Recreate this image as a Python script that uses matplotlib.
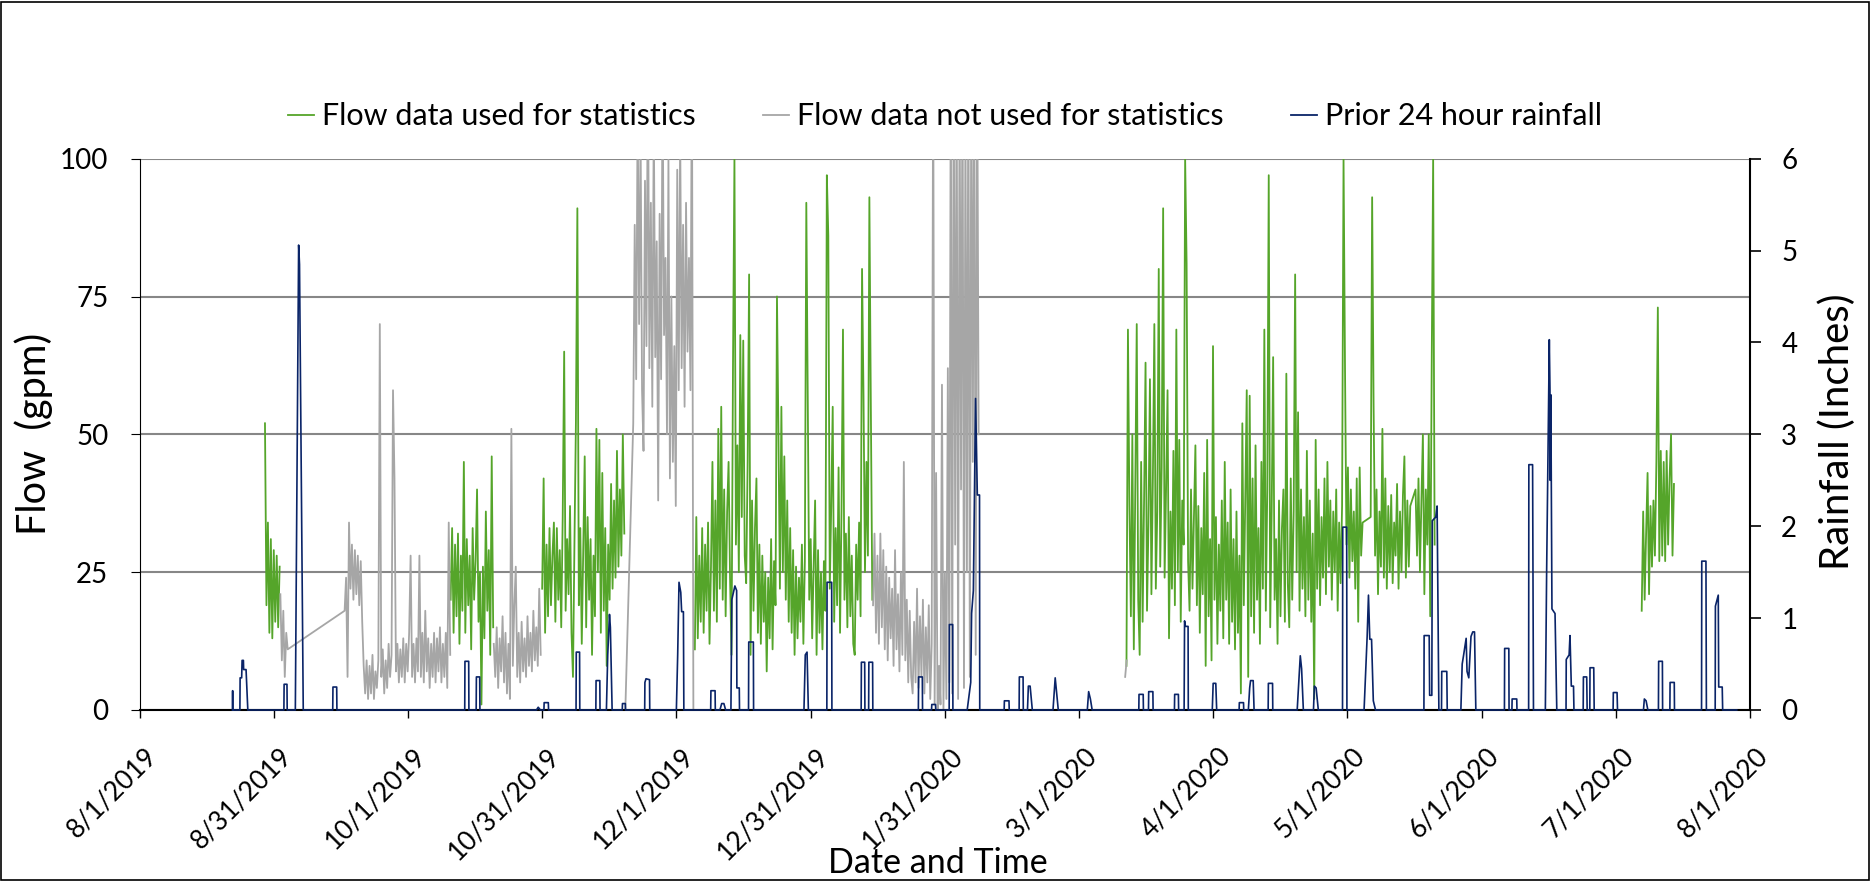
import numpy as np
import matplotlib.pyplot as plt
from matplotlib.patches import Rectangle
from matplotlib.lines import Line2D
from matplotlib.transforms import ScaledTranslation

plt.rcParams['font.family'] = ['Lato', 'DejaVu Sans']

# readings every 8 hours; x = days since 8/1/2019
STEP = 1 / 3

# Flow data used for statistics (gpm): (start day, readings, joined to previous)
used_1 = [52, 19, 34, 14, 31, 13, 29, 16, 28, 15, 26]
used_2 = [20, 33, 14, 30, 17, 32, 12, 28, 18, 45, 14, 31, 19, 28, 11, 33, 20, 27, 40, 16,
          25, 1, 26, 13, 36, 18, 29, 10, 46, 15]
used_3 = [22, 42, 14, 30, 17, 33, 19, 28, 34, 16, 33, 20, 29, 15, 35, 65, 18, 31, 21, 37,
          14, 6, 30, 52, 91, 19, 33, 12, 29, 46, 15, 35, 20, 31, 10, 28, 17, 51, 25, 49,
          14, 43, 18, 33, 8, 30, 20, 41, 22, 38, 24, 47, 26, 40, 28, 50, 32]
used_4 = [11, 35, 13, 28, 16, 33, 14, 30, 18, 34, 12, 26, 45, 18, 38, 16, 51, 22, 55, 20,
          40, 17, 36, 45, 24, 10, 62, 100, 30, 48, 25, 68, 35, 67, 28, 23, 45, 79, 10, 38,
          18, 33, 42, 14, 30, 12, 28, 16, 25, 7, 24, 13, 31, 11, 27, 19, 75, 50, 22, 55,
          25, 46, 20, 38, 16, 33, 14, 29, 10, 26, 13, 24, 16, 30, 12, 27, 92, 55, 20, 31,
          13, 26, 38, 10, 29, 14, 25, 11, 27, 18, 97, 86, 22, 37, 55, 16, 33, 19, 44, 14,
          36, 69, 20, 32, 15, 35, 17, 28, 12, 10, 30, 20, 34, 17, 80, 57, 25, 45, 28, 93,
          55, 20]
used_5a = [8, 69, 37, 17, 50, 11, 40, 70, 20, 10, 45, 16, 38, 63, 18, 34, 60, 21, 42, 70,
           22, 36, 80, 26, 44, 91, 24, 40, 58, 13, 36, 22, 47, 19, 69, 25, 49, 16, 38, 30,
           100, 81, 27, 18, 40, 22, 35, 48, 19, 37, 14, 33, 21, 43, 8, 49, 17, 31, 9, 66,
           20, 35, 12, 30, 18, 38, 13, 45, 20, 34, 12, 40, 16, 31, 11, 36, 14, 28, 3, 52,
           19, 38, 58, 6, 57, 17, 42, 14, 48, 20, 33, 12, 45, 22, 69, 18, 40, 97, 15, 36,
           64, 20, 31, 12, 38, 17, 33, 40, 16, 61, 23, 15, 42, 20, 36, 79, 25, 54, 18, 40,
           22, 35, 17, 47, 20, 38, 16, 32, 2, 49, 22, 40, 19, 35, 24, 42, 21, 45, 26, 38,
           20, 36, 25, 40, 18, 34, 23, 37, 100, 62, 30, 44, 24, 40, 27, 36, 22, 42, 16, 44,
           28, 34]
used_5b = [35, 93, 55, 28, 40, 21, 36, 26, 51, 24, 42, 22, 37, 25, 39, 23, 34, 28, 41, 22,
           36, 25, 39, 46, 24, 38, 26, 37]
used_5c = [40, 28, 42, 25, 38, 50, 21, 40, 30, 50, 17, 62, 100, 30]
used_6 = [18, 36, 20, 32, 43, 21, 37, 26, 38, 28, 45, 73, 27, 47, 28, 45, 27, 47, 30, 42,
          50, 28, 41]

# Flow data not used for statistics (gpm)
notused_1 = [21, 9, 18, 6, 14, 11]
notused_2 = [18, 24, 6, 34, 22, 30, 20, 29, 21, 28, 19, 27, 16, 8, 3, 9, 2, 8, 3, 10,
             2, 7, 4, 9, 70, 6, 11, 3, 9, 4, 12, 6, 10, 58, 42, 7, 12, 5, 11, 6,
             13, 5, 12, 7, 14, 28, 6, 12, 5, 13, 7, 28, 6, 14, 5, 18, 7, 13, 4, 12,
             6, 14, 5, 13, 7, 15, 5, 12, 6, 14, 4, 34, 10]
notused_3 = [12, 6, 15, 4, 13, 7, 17, 5, 14, 3, 12, 2, 51, 8, 19, 26, 6, 14, 5, 16,
             7, 13, 6, 17, 8, 14, 7, 18, 9, 15, 8, 22, 10]
notused_4 = [0]
notused_5 = [52, 88, 60, 110, 70, 105, 58, 47, 96, 66, 120, 62, 92, 55, 108, 64, 85, 38, 90, 60,
             115, 68, 82, 50, 100, 42, 75, 45, 66, 37, 98, 58, 105, 62, 88, 55, 92, 65, 82, 58,
             120, 0]
notused_6 = [19, 32, 14, 28, 12, 32, 15, 29, 11, 26, 9, 24, 13, 22, 8, 29, 11, 21, 7, 25,
             10, 45, 9, 20, 5, 18, 6, 3, 16, 5, 22, 4, 17, 6, 20, 3, 15, 5, 19, 2,
             12, 120, 1, 43, 0, 8, 1, 59, 0, 25, 2, 62, 5, 120, 3, 120, 30, 120, 2, 115,
             40, 120, 4, 110, 25, 120, 6, 120, 45, 120, 10, 120, 50]
notused_7 = [6, 9]

used_segments = [(28.5, used_1, False), (70.7, used_2, False), (91.5, used_3, False),
                 (126.2, used_4, False), (224.3, used_5a, False), (279.8, used_5b, True),
                 (290.0, used_5c, True), (341.4, used_6, False)]
notused_segments = [(32.0, notused_1, False), (46.6, notused_2, True), (80.5, notused_3, False),
                    (110.4, notused_4, False), (112.2, notused_5, True),
                    (166.7, notused_6, False), (224.0, notused_7, False)]

# Prior 24 hour rainfall (inches): (day, inches)
rain = [(21.1, 0), (21.15, 0.21), (21.2, 0),
        (22.8, 0), (22.85, 0.35), (23.2, 0.35), (23.3, 0.54), (23.6, 0.54), (23.65, 0.44), (24.2, 0.44), (24.6, 0),
        (32.8, 0), (32.85, 0.28), (33.5, 0.28), (33.55, 0),
        (35.4, 0), (36.15, 5.06), (36.35, 4.85), (37.2, 0),
        (43.9, 0), (43.95, 0.25), (44.8, 0.25), (44.85, 0),
        (73.9, 0), (73.95, 0.53), (74.8, 0.53), (74.85, 0),
        (76.5, 0), (76.55, 0.36), (77.3, 0.36), (77.35, 0),
        (90.2, 0), (90.6, 0.03), (91.1, 0),
        (91.9, 0), (91.95, 0.08), (92.9, 0.08), (92.95, 0),
        (99.2, 0), (99.25, 0.63), (100.0, 0.63), (100.05, 0),
        (103.7, 0), (103.75, 0.32), (104.6, 0.32), (104.65, 0),
        (106.1, 0), (106.4, 0.6), (106.8, 1.04), (107.0, 0.9), (107.4, 0),
        (109.7, 0), (109.75, 0.07), (110.4, 0.07), (110.45, 0),
        (114.8, 0), (114.85, 0.3), (115.1, 0.34), (115.9, 0.33), (115.95, 0),
        (122.0, 0), (122.3, 0.6), (122.6, 1.39), (123.0, 1.28), (123.2, 1.07), (123.6, 1.07), (123.7, 0),
        (129.8, 0), (129.85, 0.21), (130.8, 0.21), (130.85, 0),
        (131.9, 0), (132.3, 0.07), (132.8, 0.07), (133.2, 0),
        (134.4, 0), (134.6, 1.2), (135.3, 1.35), (135.7, 1.3), (135.75, 0.24), (136.3, 0.24), (136.35, 0),
        (138.4, 0), (138.45, 0.74), (139.5, 0.74), (139.55, 0),
        (151.0, 0), (151.3, 0.6), (151.7, 0.63), (152.0, 0),
        (156.2, 0), (156.25, 1.39), (157.3, 1.39), (157.35, 0),
        (164.0, 0), (164.05, 0.52), (164.8, 0.52), (164.85, 0),
        (165.7, 0), (165.75, 0.52), (166.6, 0.52), (166.65, 0),
        (177.0, 0), (177.05, 0.36), (177.9, 0.36), (177.95, 0),
        (180.0, 0), (180.05, 0.06), (180.9, 0.06), (180.95, 0),
        (184.0, 0), (184.05, 0.93), (184.8, 0.93), (184.85, 0),
        (188.1, 0), (188.9, 0.3), (189.1, 1.05), (189.5, 1.3), (190.0, 3.39), (190.4, 2.34), (190.9, 2.34), (190.95, 0),
        (196.5, 0), (196.55, 0.1), (197.6, 0.1), (197.65, 0),
        (199.9, 0), (199.95, 0.36), (200.8, 0.36), (200.85, 0),
        (201.8, 0), (202.0, 0.26), (202.4, 0.26), (202.9, 0),
        (207.6, 0), (208.1, 0.35), (208.8, 0),
        (215.4, 0), (215.7, 0.2), (216.1, 0.12), (216.5, 0),
        (227.1, 0), (227.15, 0.17), (228.1, 0.17), (228.15, 0),
        (229.3, 0), (229.35, 0.2), (230.3, 0.2), (230.35, 0),
        (235.2, 0), (235.25, 0.17), (236.1, 0.17), (236.15, 0),
        (237.4, 0), (237.5, 0.97), (237.7, 0.91), (238.3, 0.91), (238.35, 0),
        (243.8, 0), (244.0, 0.29), (244.6, 0.29), (244.8, 0),
        (249.9, 0), (249.95, 0.08), (250.9, 0.08), (250.95, 0),
        (252.0, 0), (252.3, 0.24), (252.5, 0.32), (253.1, 0.32), (253.3, 0),
        (256.5, 0), (256.55, 0.29), (257.5, 0.29), (257.55, 0),
        (263.1, 0), (263.8, 0.59), (264.1, 0.45), (264.5, 0),
        (266.8, 0), (267.0, 0.26), (267.4, 0.24), (267.9, 0),
        (273.4, 0), (273.45, 1.99), (274.35, 1.99), (274.4, 0),
        (278.3, 0), (279.0, 0.8), (279.3, 1.25), (279.6, 0.77), (280.0, 0.77), (280.4, 0.1), (280.9, 0),
        (291.9, 0), (291.95, 0.81), (293.1, 0.81), (293.2, 0.16), (293.7, 0.16), (293.8, 2.06), (294.6, 2.1), (294.9, 2.22), (295.3, 0),
        (295.9, 0), (295.95, 0.42), (297.1, 0.42), (297.2, 0),
        (300.3, 0), (300.6, 0.5), (300.9, 0.59), (301.5, 0.78), (301.7, 0.42), (302.1, 0.35), (302.6, 0.8), (303.0, 0.85), (303.4, 0.85), (303.7, 0),
        (310.2, 0), (310.25, 0.67), (311.2, 0.67), (311.25, 0),
        (311.9, 0), (311.95, 0.12), (313.0, 0.12), (313.05, 0),
        (315.7, 0), (315.75, 2.67), (316.6, 2.67), (316.8, 0),
        (319.5, 0), (319.8, 1.54), (320.4, 4.03), (320.55, 3.49), (320.6, 2.5), (320.75, 3.43), (321.0, 1.1), (321.7, 1.05), (322.1, 0),
        (324.2, 0), (324.25, 0.55), (324.9, 0.6), (325.1, 0.81), (325.4, 0.26), (325.9, 0.26), (326.0, 0),
        (328.1, 0), (328.15, 0.36), (328.9, 0.36), (329.0, 0),
        (329.6, 0), (329.65, 0.46), (330.5, 0.46), (330.6, 0),
        (334.9, 0), (334.95, 0.19), (335.8, 0.19), (335.9, 0),
        (341.8, 0), (342.0, 0.12), (342.4, 0.1), (342.8, 0),
        (345.2, 0), (345.25, 0.53), (346.1, 0.53), (346.15, 0),
        (347.8, 0), (347.85, 0.3), (348.8, 0.3), (348.85, 0),
        (355.0, 0), (355.05, 1.62), (356.0, 1.62), (356.1, 0),
        (358.1, 0), (358.15, 1.13), (358.8, 1.25), (358.9, 0.25), (359.7, 0.25), (359.8, 0),
        (363.0, 0)]

tick_labels = ['8/1/2019', '8/31/2019', '10/1/2019', '10/31/2019', '12/1/2019', '12/31/2019',
               '1/31/2020', '3/1/2020', '4/1/2020', '5/1/2020', '6/1/2020', '7/1/2020', '8/1/2020']


def build(segments):
    xs, ys = [], []
    for start, vals, joined in segments:
        if xs and not joined:
            xs.append(np.nan)
            ys.append(np.nan)
        xs.extend(start + STEP * np.arange(len(vals)))
        ys.extend(vals)
    return np.array(xs), np.array(ys)


green = '#55A52A'
grey = '#A6A6A6'
navy = '#0A2468'

fig = plt.figure(figsize=(18.71, 8.81), dpi=100)
ax = fig.add_axes([0.0746, 0.1941, 0.8607, 0.6258])
ax2 = ax.twinx()

ux, uy = build(used_segments)
nx, ny = build(notused_segments)
ax.plot(ux, uy, color=green, lw=1.3)
ax.plot(nx, ny, color=grey, lw=1.3)

rd = [p[0] for p in rain]
rv = [p[1] for p in rain]
ax2.plot(rd, rv, color=navy, lw=1.2, clip_on=False)

ax.set_xlim(0, 366)
ax.set_ylim(0, 100)
ax2.set_ylim(0, 6)

ax.set_yticks([0, 25, 50, 75, 100])
ax.grid(axis='y', color='#878787', lw=1.5)
ax.tick_params(axis='y', length=6.5, width=0.8, pad=16, labelsize=20)
ax.set_xticks(np.arange(13) * 30.5)
ax.set_xticklabels(tick_labels, rotation=45, ha='right', rotation_mode='anchor', fontsize=19)
ax.tick_params(axis='x', length=6, width=1, direction='out', pad=18)
for lab in ax.get_xticklabels():
    lab.set_transform(lab.get_transform() + ScaledTranslation(5 / 100, 0, fig.dpi_scale_trans))

ax2.set_yticks(range(7))
ax2.tick_params(axis='y', length=8, width=1.2, pad=14.5, labelsize=20)

for s in ['top', 'right']:
    ax.spines[s].set_visible(False)
for s in ['left', 'top', 'bottom']:
    ax2.spines[s].set_visible(False)
ax.spines['left'].set_linewidth(0.8)
ax.spines['bottom'].set_linewidth(1.5)
ax2.spines['right'].set_linewidth(1.5)

fig.text(0.018, 0.507, 'Flow  (gpm)', rotation=90, ha='center', va='center', fontsize=28.5)
fig.text(0.982, 0.51, 'Rainfall (Inches)', rotation=90, ha='center', va='center', fontsize=29)
fig.text(0.501, 0.0091, 'Date and Time', ha='center', va='baseline', fontsize=24.5)

handles = [Line2D([], [], color=green, lw=1.3),
           Line2D([], [], color=grey, lw=1.3),
           Line2D([], [], color=navy, lw=1.3)]
fig.legend(handles, ['Flow data used for statistics', 'Flow data not used for statistics',
                     'Prior 24 hour rainfall'],
           loc='center', bbox_to_anchor=(0.505, 0.868), ncol=3, frameon=False,
           fontsize=22, handlelength=0.86, handletextpad=0.25, columnspacing=2.2)

fig.patches.append(Rectangle((0.0006, 0.001), 0.9985, 0.997, transform=fig.transFigure,
                             fill=False, ec='black', lw=1.2))

fig.savefig('out.png', dpi=100)
